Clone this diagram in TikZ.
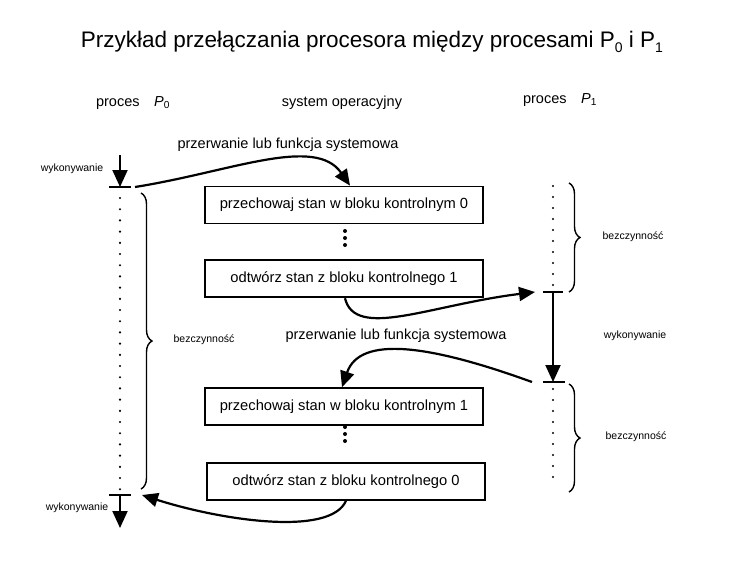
\documentclass[tikz,border=0pt]{standalone}
\usepackage{fontspec}
\setmainfont{Liberation Sans}
\usetikzlibrary{positioning,arrows.meta,decorations.pathreplacing}
\newcommand{\indeks}[1]{\raisebox{-0.4ex}{\fontsize{14}{16}\selectfont#1}}

\begin{document}
\begin{tikzpicture}[x=1pt,y=-1pt,
  stan/.style={draw,line width=1.8pt,minimum width=278pt,minimum height=37pt,font=\fontsize{14.7}{17}\selectfont},
  opis/.style={font=\fontsize{14.5}{17}\selectfont},
  maly/.style={font=\fontsize{10.5}{12}\selectfont},
  os/.style={line width=2pt},
  strz/.style={line width=2pt,-{Triangle[width=15pt,length=17pt]}},
  luk/.style={line width=2.2pt,-{Triangle[width=14pt,length=16pt]}},
  klamra/.style={line width=1.4pt,decorate,decoration={brace,amplitude=11pt}}]
\useasboundingbox (0,0) rectangle (746,579);
\node[font=\fontsize{22.5}{26}\selectfont] (tytul) at (372,42) {Przykład przełączania procesora między procesami P\indeks{0} i P\indeks{1}};
\node[opis] (hp0) at (133,103) {proces\quad\textit{P}\textsubscript{0}};
\node[opis] (hos) at (342,103) {system operacyjny};
\node[opis] (hp1) at (560,100) {proces\quad\textit{P}\textsubscript{1}};
\node[stan] (blok0) at (344,205) {przechowaj stan w bloku kontrolnym 0};
\node[stan,below=35pt of blok0] (blok1) {odtwórz stan z bloku kontrolnego 1};
\node[stan,below=89pt of blok1] (blok2) {przechowaj stan w bloku kontrolnym 1};
\node[stan,below=36pt of blok2,xshift=2pt] (blok3) {odtwórz stan z bloku kontrolnego 0};
\foreach \y in {231,238,245,427,434,441} \fill (345,\y) circle (2pt);
\coordinate (p0s) at (120,155);
\coordinate (p0a) at (120,187);
\coordinate (p0b) at (120,495);
\coordinate (p0e) at (120,528);
\coordinate (p1a) at (553,292);
\coordinate (p1b) at (553,382);
\draw[strz] (p0s) -- (p0a);
\draw[os] ([xshift=-11pt]p0a) -- ([xshift=11pt]p0a);
\foreach \y in {198,209.2,...,490} \fill (120,\y) circle (1.2pt);
\draw[os] ([xshift=-11pt]p0b) -- ([xshift=11pt]p0b);
\draw[strz] (p0b) -- (p0e);
\foreach \y in {186,197,...,285} \fill (553,\y) circle (1.2pt);
\draw[os] ([xshift=-10pt]p1a) -- ([xshift=10pt]p1a);
\draw[strz] (p1a) -- (p1b);
\draw[os] ([xshift=-10pt]p1b) -- ([xshift=12pt]p1b);
\foreach \y in {389,400,...,486} \fill (553,\y) circle (1.2pt);
\node[maly] (wyk0) at (72,169) {wykonywanie};
\node[maly] (wyk1) at (635,336) {wykonywanie};
\node[maly] (wyk2) at (77,508) {wykonywanie};
\draw[klamra] (141,193) -- (141,489);
\node[maly] (bez0) at (204,340) {bezczynność};
\draw[klamra] (569,183) -- (569,292);
\node[maly] (bez1) at (633,237) {bezczynność};
\draw[klamra] (569,384) -- (569,492);
\node[maly] (bez2) at (636,437) {bezczynność};
\node[opis] (prz0) at (288,145) {przerwanie lub funkcja systemowa};
\node[opis] (prz1) at (396,336) {przerwanie lub funkcja systemowa};
\draw[luk] ([xshift=15pt]p0a) .. controls (230,172) and (315,135) .. ([xshift=6pt]blok0.north);
\draw[luk] ([xshift=1pt]blok1.south) .. controls (355,340) and (430,305) .. ([xshift=-18pt]p1a);
\draw[luk] ([xshift=-21pt]p1b) .. controls (430,345) and (360,335) .. ([xshift=-2pt]blok2.north);
\draw[luk] (blok3.south) .. controls (330,537) and (220,520) .. ([xshift=22pt]p0b);
\end{tikzpicture}
\end{document}
